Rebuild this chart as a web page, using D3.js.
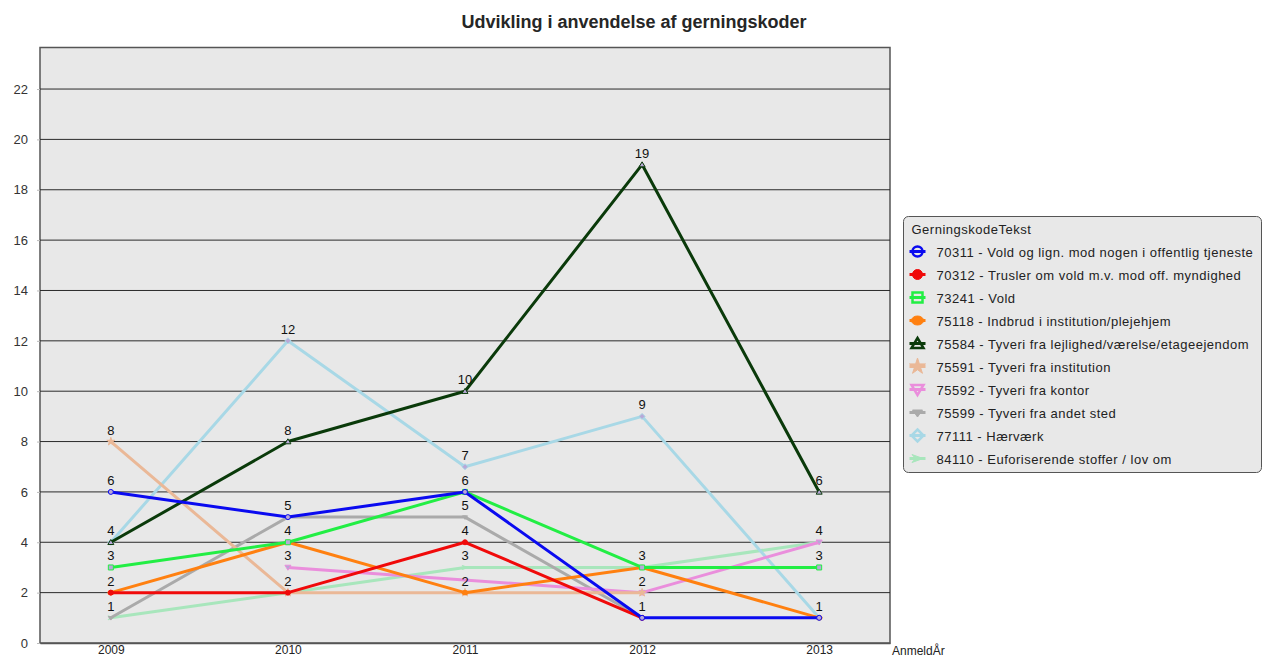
<!DOCTYPE html>
<html>
<head>
<meta charset="utf-8">
<script src="https://cdn.jsdelivr.net/npm/d3@7"></script>
<style>
  body { margin: 0; background: #fff; }
  text { font-family: "Liberation Sans", Arial, sans-serif; }
</style>
</head>
<body>
<script>
// categories
const years = ["2009", "2010", "2011", "2012", "2013"];

// series values (null = no value that year)
const s70311 = [6, 5, 6, 1, 1];
const s70312 = [2, 2, 4, 1, null];
const s73241 = [3, 4, 6, 3, 3];
const s75118 = [2, 4, 2, 3, 1];
const s75584 = [4, 8, 10, 19, 6];
const s75591 = [8, 2, 2, 2, null];
const s75592 = [null, 3, null, 2, 4];
const s75599 = [1, 5, 5, 1, null];
const s77111 = [4, 12, 7, 9, 1];
const s84110 = [1, 2, 3, 3, 4];

const seriesNames = [
    "70311 - Vold og lign. mod nogen i offentlig tjeneste",
    "70312 - Trusler om vold m.v. mod off. myndighed",
    "73241 - Vold",
    "75118 - Indbrud i institution/plejehjem",
    "75584 - Tyveri fra lejlighed/værelse/etageejendom",
    "75591 - Tyveri fra institution",
    "75592 - Tyveri fra kontor",
    "75599 - Tyveri fra andet sted",
    "77111 - Hærværk",
    "84110 - Euforiserende stoffer / lov om"
];
const seriesValues = [s70311, s70312, s73241, s75118, s75584, s75591, s75592, s75599, s77111, s84110];

const yTicks = [0, 2, 4, 6, 8, 10, 12, 14, 16, 18, 20, 22];

// styles
const colors = ["#0a0af0", "#f00a0a", "#22ee44", "#ff8010", "#0a3a0a",
                "#eab897", "#ea8edc", "#aaaaaa", "#a8d8e6", "#a8e6bc"];
const shapes = ["ring", "dot", "square", "ellipse", "triangle", "star", "tridown", "tridownsmall", "diamond", "arrow"];

const width = 1264, height = 659;
const plot = {left: 40, right: 890, top: 47.5, bottom: 643};

const svg = d3.select("body").append("svg")
    .attr("width", width)
    .attr("height", height);

// title
svg.append("text")
    .attr("x", 634)
    .attr("y", 28)
    .attr("text-anchor", "middle")
    .attr("font-size", 18)
    .attr("font-weight", "bold")
    .attr("fill", "#262626")
    .text("Udvikling i anvendelse af gerningskoder");

// scales
const xScale = d3.scalePoint().domain(years).range([plot.left, plot.right]).padding(0.4);
const yScale = d3.scaleLinear().domain([0, 23.65]).range([plot.bottom, plot.top]);

// plot background
svg.append("rect")
    .attr("x", plot.left)
    .attr("y", plot.top)
    .attr("width", plot.right - plot.left)
    .attr("height", plot.bottom - plot.top)
    .attr("fill", "#e8e8e8")
    .attr("stroke", "#555")
    .attr("stroke-width", 1.5);

// grid lines
svg.append("g")
    .selectAll("line")
    .data(yTicks.filter(d => d > 0))
    .join("line")
    .attr("x1", plot.left)
    .attr("x2", plot.right)
    .attr("y1", d => yScale(d))
    .attr("y2", d => yScale(d))
    .attr("stroke", "#2a2a2a")
    .attr("stroke-width", 1);

// y axis
const yAxis = d3.axisLeft(yScale).tickValues(yTicks).tickSize(3).tickPadding(9).tickFormat(d3.format("d"));
svg.append("g")
    .attr("transform", `translate(${plot.left},0)`)
    .call(yAxis)
    .call(g => g.select(".domain").remove())
    .call(g => g.selectAll("line").attr("stroke", "#bbb"))
    .call(g => g.selectAll("text")
        .attr("font-size", 13)
        .attr("fill", "#333")
        .attr("font-family", "'Liberation Sans', Arial, sans-serif"));

// x axis
const xAxis = d3.axisBottom(xScale).tickSize(0).tickPadding(2);
svg.append("g")
    .attr("transform", `translate(0,${plot.bottom})`)
    .call(xAxis)
    .call(g => g.select(".domain").attr("stroke", "#555").attr("stroke-width", 1.5))
    .call(g => g.selectAll("text")
        .attr("font-size", 12)
        .attr("fill", "#222")
        .attr("font-family", "'Liberation Sans', Arial, sans-serif"));

svg.append("text")
    .attr("x", 892)
    .attr("y", 655)
    .attr("font-size", 12)
    .attr("fill", "#222")
    .text("AnmeldÅr");

// marker shapes
function shapePath(kind, r) {
    switch (kind) {
        case "ring":
        case "dot": return d3.symbol(d3.symbolCircle, Math.PI * r * r)();
        case "square": return d3.symbol(d3.symbolSquare, (2 * r) * (2 * r))();
        case "ellipse": return `M${-r * 1.2},0A${r * 1.2},${r * 0.9} 0 1,0 ${r * 1.2},0A${r * 1.2},${r * 0.9} 0 1,0 ${-r * 1.2},0Z`;
        case "triangle": return `M0,${-r * 1.1}L${r * 1.2},${r * 0.9}L${-r * 1.2},${r * 0.9}Z`;
        case "star": return d3.symbol(d3.symbolStar, r * r * 3.2)();
        case "tridown": return `M${-r * 1.2},${-r * 0.9}L${r * 1.2},${-r * 0.9}L0,${r * 1.1}Z`;
        case "tridownsmall": return `M${-r},${-r * 0.5}L${r},${-r * 0.5}L0,${r * 0.9}Z`;
        case "diamond": return `M0,${-r * 1.2}L${r * 1.2},0L0,${r * 1.2}L${-r * 1.2},0Z`;
        case "arrow": return `M${-r * 1.1},${-r * 0.8}L${r * 1.1},0L${-r * 1.1},${r * 0.8}L${-r * 0.4},0Z`;
    }
}
const openShapes = ["ring", "square", "triangle", "tridown", "diamond"];

const line = d3.line()
    .defined(d => d.v != null)
    .x(d => xScale(d.year))
    .y(d => yScale(d.v));

// draw series in reverse order so the first series lies on top
const series = seriesValues.map((vals, i) => ({
    i: i,
    pts: years.map((y, j) => ({year: y, v: vals[j]})).filter(d => d.v != null)
}));

const linesg = svg.append("g");
series.slice().reverse().forEach(s => {
    const g = linesg.append("g");
    g.append("path")
        .attr("d", line(s.pts))
        .attr("fill", "none")
        .attr("stroke", colors[s.i])
        .attr("stroke-width", 3)
        .attr("stroke-linejoin", "round");
    g.selectAll(".marker")
        .data(s.pts)
        .join("path")
        .attr("class", "marker")
        .attr("transform", d => `translate(${xScale(d.year)},${yScale(d.v)})`)
        .attr("d", shapePath(shapes[s.i], 2.5))
        .attr("fill", openShapes.includes(shapes[s.i]) ? "#b8a8d8" : colors[s.i])
        .attr("stroke", colors[s.i])
        .attr("stroke-width", 1);
});

// value labels (points sharing a spot get one label)
const seen = new Set();
const labelData = [];
series.forEach(s => s.pts.forEach(d => {
    const key = d.year + "|" + d.v;
    if (!seen.has(key)) { seen.add(key); labelData.push(d); }
}));
svg.append("g")
    .selectAll("text")
    .data(labelData)
    .join("text")
    .attr("x", d => xScale(d.year))
    .attr("y", d => yScale(d.v) - 7)
    .attr("text-anchor", "middle")
    .attr("font-size", 13)
    .attr("fill", "#111")
    .text(d => d.v);

// legend
const legend = {x: 903.5, y: 216.5, w: 358, h: 256};
const lg = svg.append("g").attr("transform", `translate(${legend.x},${legend.y})`);
lg.append("rect")
    .attr("width", legend.w)
    .attr("height", legend.h)
    .attr("rx", 5)
    .attr("fill", "#e8e8e8")
    .attr("stroke", "#555")
    .attr("stroke-width", 1);
lg.append("text")
    .attr("x", 8)
    .attr("y", 17)
    .attr("font-size", 13)
    .attr("letter-spacing", 0.5)
    .attr("fill", "#222")
    .text("GerningskodeTekst");

seriesNames.forEach((name, i) => {
    const row = lg.append("g").attr("transform", `translate(0,${35 + i * 23})`);
    row.append("line")
        .attr("x1", 6).attr("x2", 22)
        .attr("y1", 0).attr("y2", 0)
        .attr("stroke", colors[i])
        .attr("stroke-width", 3);
    const open = openShapes.includes(shapes[i]);
    row.append("path")
        .attr("transform", "translate(14,0)")
        .attr("d", shapePath(shapes[i], 5))
        .attr("fill", open ? "none" : colors[i])
        .attr("stroke", colors[i])
        .attr("stroke-width", open ? 2.5 : 1);
    row.append("text")
        .attr("x", 33)
        .attr("y", 5)
        .attr("font-size", 13)
        .attr("letter-spacing", 0.5)
        .attr("fill", "#222")
        .text(name);
});
</script>
</body>
</html>
